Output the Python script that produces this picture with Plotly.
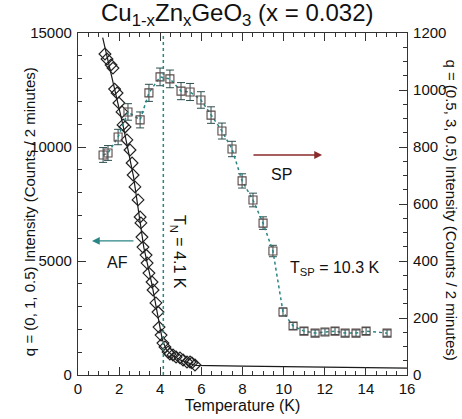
import plotly.graph_objects as go

# AF order parameter: q = (0, 1, 0.5), left axis
af_T = [1.31, 1.41, 1.61, 1.70, 1.78, 1.90, 1.99, 2.14, 2.19, 2.29, 2.38, 2.53, 2.63, 2.68,
        2.77, 2.92, 3.02, 3.06, 3.11, 3.16, 3.31, 3.36, 3.45, 3.60, 3.65, 3.79, 3.89, 3.94,
        4.04, 4.13, 4.23, 4.38, 4.47, 4.62, 4.77, 4.96, 5.11, 5.30, 5.45, 5.54, 5.69]
af_I = [14080, 13860, 13600, 13460, 12540, 12370, 11930, 11540, 10970, 10880, 10310, 9870,
        9300, 8770, 8250, 7680, 6930, 6670, 6050, 5610, 5260, 4910, 4470, 4080, 3730, 3160,
        2760, 2100, 1750, 1400, 1230, 1010, 920, 880, 790, 750, 660, 570, 570, 530, 440]

# AF fit curve
fit_T = [1.2, 1.7, 2.2, 2.7, 3.2, 3.6, 3.9, 4.1, 4.3, 4.6, 5.0, 5.7, 8.0, 12.0, 16.0]
fit_I = [14800, 12900, 10900, 8700, 5600, 3950, 2500, 1550, 1100, 850, 650, 420, 390, 340, 300]

# SP order parameter: q = (0.5, 3, 0.5), right axis
sp_T = [1.22, 1.46, 1.95, 2.43, 3.02, 3.45, 3.99, 4.47, 5.01, 5.45, 5.98, 6.47, 7.00, 7.49,
        7.98, 8.51, 9.00, 9.48, 9.97, 10.46, 10.99, 11.53, 12.01, 12.50, 12.99, 13.52, 14.01, 15.03]
sp_I = [772, 779, 835, 923, 895, 990, 1046, 1039, 996, 993, 965, 912, 856, 793,
        681, 614, 533, 435, 221, 172, 154, 147, 151, 154, 147, 147, 154, 147]
sp_err = [26, 26, 27, 29, 28, 30, 31, 31, 30, 30, 29, 29, 28, 27,
          25, 24, 22, 20, 14, 12, 12, 11, 11, 12, 11, 11, 12, 11]

T_N = 4.15
FONT = "Liberation Sans, Arial, sans-serif"
TEAL = "#2b8585"

fig = go.Figure()
fig.add_trace(go.Scatter(x=fit_T, y=fit_I, mode="lines",
                         line=dict(color="#1a1a1a", width=1.2), yaxis="y", showlegend=False))
fig.add_trace(go.Scatter(x=af_T, y=af_I, mode="markers",
                         marker=dict(symbol="diamond-open", size=9, color="#222222",
                                     line=dict(width=1.2)),
                         yaxis="y", showlegend=False))
fig.add_trace(go.Scatter(x=sp_T, y=sp_I, mode="lines+markers",
                         line=dict(color=TEAL, width=1.5, dash="dot"),
                         marker=dict(symbol="square-open", size=8, color="#5a4848",
                                     line=dict(width=1.1)),
                         error_y=dict(type="data", array=sp_err, visible=True,
                                      color="#2e4e4e", thickness=1, width=4),
                         yaxis="y2", showlegend=False))

fig.add_shape(type="line", xref="x", yref="paper", x0=T_N, x1=T_N, y0=0, y1=1,
              line=dict(color=TEAL, width=1.5, dash="dot"))

ann = []
ann.append(dict(text="Cu<sub>1-x</sub>Zn<sub>x</sub>GeO<sub>3</sub> (x = 0.032)",
                xref="paper", yref="paper", x=0.486, y=1.055, showarrow=False,
                font=dict(size=24, color="#111", family=FONT), yanchor="middle"))
ann.append(dict(text="q = (0, 1, 0.5) Intensity (Counts / 2 minutes)", textangle=-90,
                xref="paper", yref="paper", x=-0.179, y=0.478, showarrow=False,
                font=dict(size=15, color="#111", family=FONT)))
ann.append(dict(text="q = (0.5, 3, 0.5) Intensity (Counts / 2 minutes)", textangle=90,
                xref="paper", yref="paper", x=1.168, y=0.482, showarrow=False,
                font=dict(size=15, color="#111", family=FONT)))
# AF arrow
ann.append(dict(x=0.68, y=5880, ax=2.77, ay=5880, xref="x", yref="y", axref="x", ayref="y",
                showarrow=True, arrowhead=2, arrowsize=1.2, arrowwidth=1.3, arrowcolor=TEAL, text=""))
ann.append(dict(text="AF", x=1.9, y=4950, xref="x", yref="y", showarrow=False,
                font=dict(size=16, color="#111", family=FONT)))
# SP arrow
ann.append(dict(x=11.87, y=772, ax=8.46, ay=772, xref="x", yref="y2", axref="x", ayref="y2",
                showarrow=True, arrowhead=2, arrowsize=1.2, arrowwidth=1.3, arrowcolor="#8a2a2a", text=""))
ann.append(dict(text="SP", x=9.92, y=702, xref="x", yref="y2", showarrow=False,
                font=dict(size=16, color="#111", family=FONT)))
ann.append(dict(text="T<sub>SP</sub> = 10.3 K", x=12.5, y=372, xref="x", yref="y2", showarrow=False,
                font=dict(size=16, color="#111", family=FONT)))
ann.append(dict(text="T<sub>N</sub> = 4.1 K", textangle=90, x=4.86, y=5400, xref="x", yref="y",
                showarrow=False, font=dict(size=16, color="#111", family=FONT)))

axcol = "#333333"
fig.update_layout(
    width=462, height=419, autosize=False,
    margin=dict(l=78, r=55, t=33, b=44, autoexpand=False),
    paper_bgcolor="white", plot_bgcolor="white",
    font=dict(family=FONT, size=15, color="#111"),
    annotations=ann,
    xaxis=dict(range=[0, 16], dtick=2, tick0=0, ticks="inside", ticklen=8, tickcolor=axcol,
               showline=True, linecolor=axcol, linewidth=1.2, mirror="ticks", showgrid=False,
               zeroline=False, tickfont=dict(size=15), automargin=False,
               minor=dict(dtick=0.5, ticks="inside", ticklen=4, tickcolor=axcol),
               title=dict(text="Temperature (K)", font=dict(size=16), standoff=0)),
    yaxis=dict(range=[0, 15000], dtick=5000, ticks="inside", ticklen=8, tickcolor=axcol,
               tickformat="d", exponentformat="none", separatethousands=False,
               showline=True, linecolor=axcol, linewidth=1.2, showgrid=False, zeroline=False,
               tickfont=dict(size=15), ticklabelstandoff=2, automargin=False,
               minor=dict(dtick=1000, ticks="inside", ticklen=4, tickcolor=axcol)),
    yaxis2=dict(range=[0, 1200], dtick=200, ticks="inside", ticklen=8, tickcolor=axcol,
                tickformat="d", exponentformat="none", separatethousands=False,
                overlaying="y", side="right", automargin=False,
                showline=True, linecolor=axcol, linewidth=1.2, showgrid=False, zeroline=False,
                tickfont=dict(size=15), ticklabelstandoff=2,
                minor=dict(dtick=50, ticks="inside", ticklen=4, tickcolor=axcol)),
)

fig.write_html("out.html", config={"displayModeBar": False},
               post_script="document.body.style.margin='0px';document.body.style.overflow='hidden';")
